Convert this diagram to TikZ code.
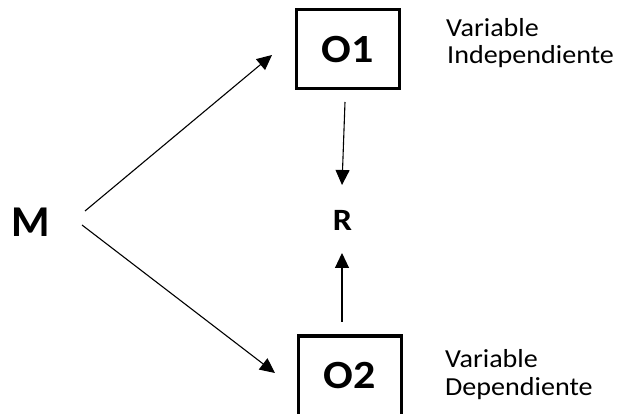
\documentclass[tikz,border=0pt]{standalone}
\usepackage{fontspec}
\setmainfont{Carlito}[FakeStretch=1.08]
\newfontfamily\mfont{Carlito}
\newfontfamily\ofont{Carlito}[FakeStretch=1.1]
\usetikzlibrary{arrows.meta}
\begin{document}
\begin{tikzpicture}[x=1pt,y=-1pt,
  box/.style={draw,line width=3pt,minimum width=103pt,minimum height=79pt,inner sep=0pt,font=\ofont\fontsize{40}{42}\selectfont\bfseries},
  lbl/.style={anchor=base west,inner sep=0pt,font=\fontsize{26}{28}\selectfont},
  arr/.style={line width=1.1pt,-{Triangle[length=15pt,width=14pt]}}]
\useasboundingbox (0,0) rectangle (627,414);
\node[box] (O1) at (347.5,49.5) {O1};
\node[box] (O2) at (350,375.5) {O2};
\node[inner sep=0pt,font=\mfont\fontsize{44}{46}\selectfont\bfseries] (M) at (31,222) {M};
\node[inner sep=0pt,font=\ofont\fontsize{31}{33}\selectfont\bfseries] (R) at (342.5,220.5) {R};
\node[lbl] (v1) at (446,37) {Variable};
\node[lbl] (i1) at (447,64) {Independiente};
\node[lbl] (v2) at (445,367) {Variable};
\node[lbl] (d2) at (445,395) {Dependiente};
\coordinate (m1) at (85,211);
\coordinate (m2) at (82,225);
\coordinate (t1) at (272,55);
\coordinate (t2) at (275,373);
\coordinate (a1) at (345,102);
\coordinate (b1) at (342,185);
\coordinate (a2) at (342,322);
\coordinate (b2) at (342,253);
\draw[arr] (m1) -- (t1);
\draw[arr] (m2) -- (t2);
\draw[arr] (a1) -- (b1);
\draw[arr] (a2) -- (b2);
\end{tikzpicture}
\end{document}
